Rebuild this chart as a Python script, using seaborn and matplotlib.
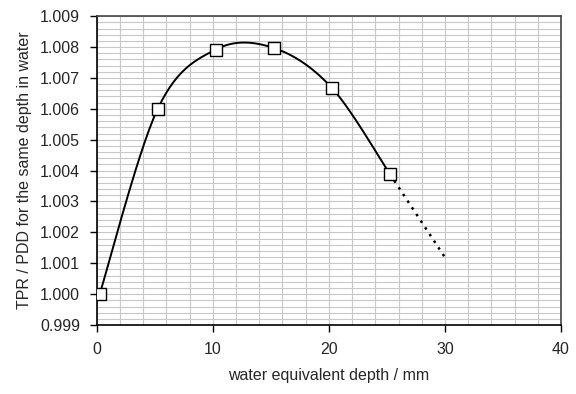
import numpy as np
import pandas as pd
import seaborn as sns
import matplotlib.pyplot as plt
from matplotlib.ticker import MultipleLocator, FormatStrFormatter

# measured points
depth = [0.25, 5.25, 10.25, 15.25, 20.25, 25.25]
ratio = [1.0000, 1.0060, 1.00792, 1.00797, 1.00668, 1.00389]

# dotted extrapolation
extrap_depth = [25.25, 30.0]
extrap_ratio = [1.00389, 1.00119]

sns.set_theme(style="white")
plt.rcParams['font.family'] = ['Liberation Sans', 'DejaVu Sans']


def smooth(x, y, n=30):
    # Excel-style smoothed line (Catmull-Rom bezier through the points)
    p = np.column_stack([x, y])
    p = np.vstack([p[0], p, p[-1]])
    out = []
    for i in range(1, len(p) - 2):
        p0, p1, p2, p3 = p[i - 1], p[i], p[i + 1], p[i + 2]
        c1 = p1 + (p2 - p0) / 6
        c2 = p2 - (p3 - p1) / 6
        t = np.linspace(0, 1, n)[:, None]
        seg = (1 - t) ** 3 * p1 + 3 * (1 - t) ** 2 * t * c1 + 3 * (1 - t) * t ** 2 * c2 + t ** 3 * p2
        out.append(seg if i == 1 else seg[1:])
    return np.vstack(out)


curve = smooth(depth, ratio)
df_curve = pd.DataFrame({"depth": curve[:, 0], "ratio": curve[:, 1]})
df_pts = pd.DataFrame({"depth": depth, "ratio": ratio})
df_ext = pd.DataFrame({"depth": extrap_depth, "ratio": extrap_ratio})

fig = plt.figure(figsize=(5.76, 3.94), dpi=100)
ax = fig.add_axes([0.168, 0.175, 0.806, 0.784])

ax.xaxis.set_minor_locator(MultipleLocator(2))
ax.yaxis.set_minor_locator(MultipleLocator(0.0002))
ax.grid(which="both", color="#c8c8c8", lw=0.8)
ax.set_axisbelow(True)

sns.lineplot(data=df_curve, x="depth", y="ratio", sort=False, color="black", lw=1.4, ax=ax)
sns.lineplot(data=df_ext, x="depth", y="ratio", sort=False, color="black", lw=1.8,
             linestyle=(0, (1, 2.2)), ax=ax)
sns.scatterplot(data=df_pts, x="depth", y="ratio", marker="s", s=70, color="white",
                edgecolor="black", linewidth=1.0, zorder=5, ax=ax)

ax.set_xlim(0, 40)
ax.set_ylim(0.999, 1.009)
ax.xaxis.set_major_locator(MultipleLocator(10))
ax.yaxis.set_major_locator(MultipleLocator(0.001))
ax.yaxis.set_major_formatter(FormatStrFormatter("%.3f"))
ax.xaxis.set_major_formatter(FormatStrFormatter("%d"))

ax.tick_params(which="major", direction="out", length=5, width=1, color="black",
               labelsize=11.5, pad=7, bottom=True, left=True)
ax.tick_params(which="minor", length=0)

for side in ["left", "bottom"]:
    ax.spines[side].set_color("black")
    ax.spines[side].set_linewidth(1.2)
for side in ["top", "right"]:
    ax.spines[side].set_color("#444444")
    ax.spines[side].set_linewidth(1.2)

ax.set_xlabel("water equivalent depth / mm", fontsize=11.5, labelpad=8)
ax.set_ylabel("TPR / PDD for the same depth in water", fontsize=11.5, labelpad=6)

plt.savefig("out.png", dpi=100)
